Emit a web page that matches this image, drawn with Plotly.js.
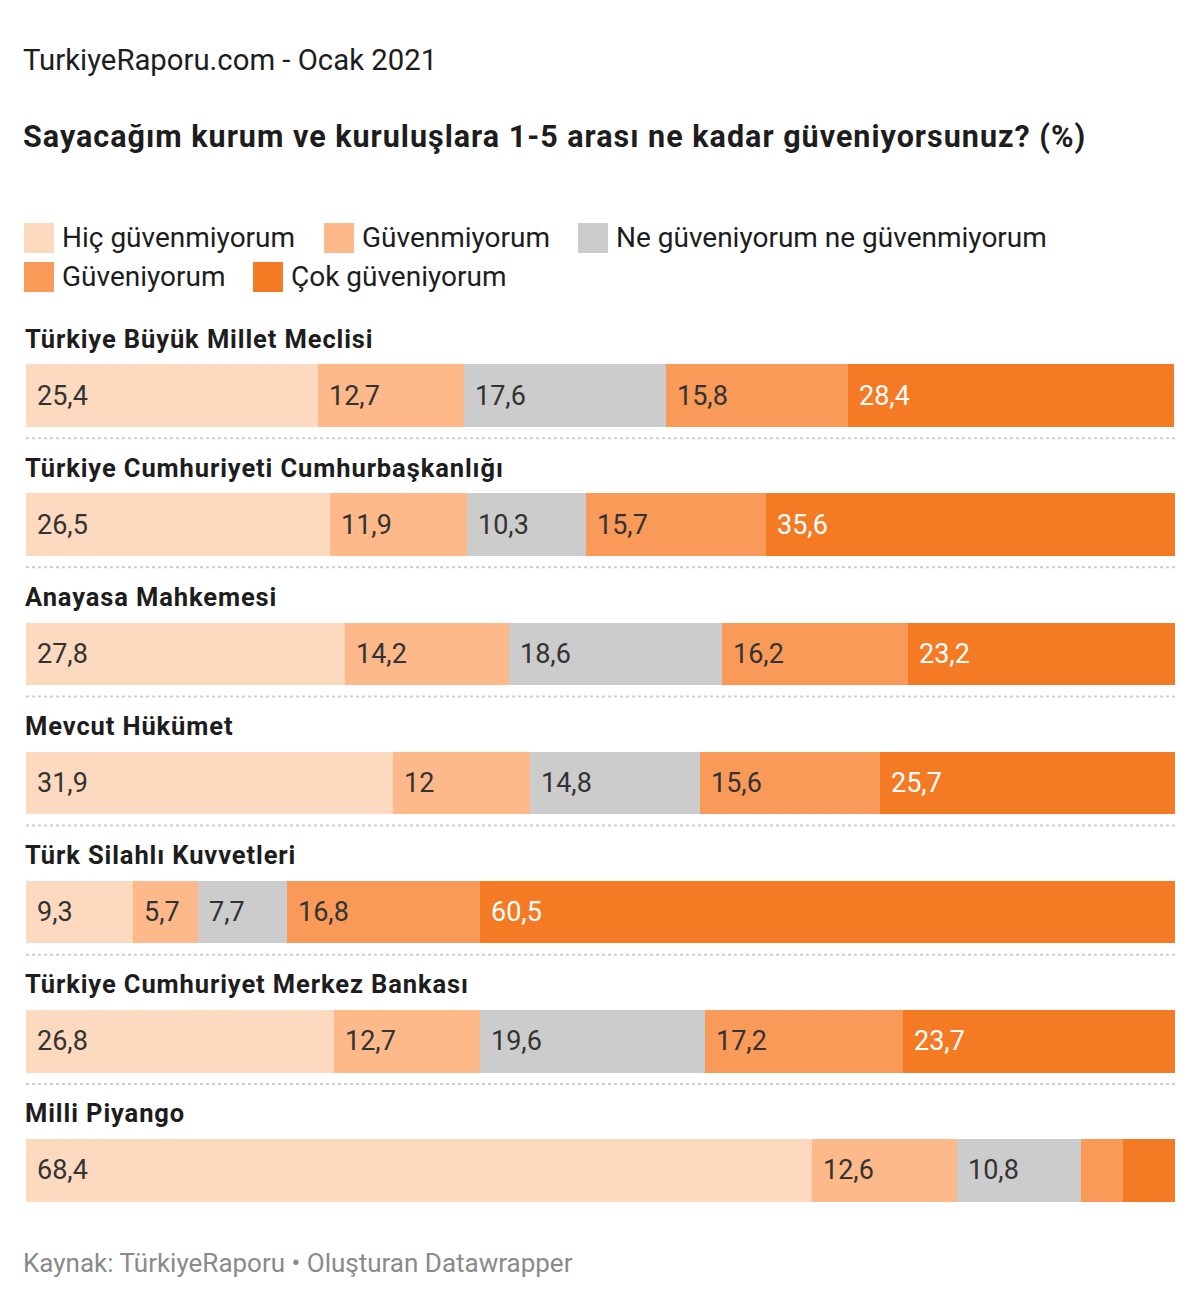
<!DOCTYPE html>
<html>
<head>
<meta charset="utf-8">
<script src="https://cdn.plot.ly/plotly-3.0.1.min.js"></script>
<style>
html,body{margin:0;padding:0;background:#fff;}
#chart{width:1200px;height:1302px;}
</style>
</head>
<body>
<div id="chart"></div>
<script>
const categories = [
  "Türkiye Büyük Millet Meclisi",
  "Türkiye Cumhuriyeti Cumhurbaşkanlığı",
  "Anayasa Mahkemesi",
  "Mevcut Hükümet",
  "Türk Silahlı Kuvvetleri",
  "Türkiye Cumhuriyet Merkez Bankası",
  "Milli Piyango"
];
const seriesNames = ["Hiç güvenmiyorum", "Güvenmiyorum", "Ne güveniyorum ne güvenmiyorum", "Güveniyorum", "Çok güveniyorum"];
const hicGuvenmiyorum = [25.4, 26.5, 27.8, 31.9, 9.3, 26.8, 68.4];
const guvenmiyorum    = [12.7, 11.9, 14.2, 12.0, 5.7, 12.7, 12.6];
const neNe            = [17.6, 10.3, 18.6, 14.8, 7.7, 19.6, 10.8];
const guveniyorum     = [15.8, 15.7, 16.2, 15.6, 16.8, 17.2, 3.7];
const cokGuveniyorum  = [28.4, 35.6, 23.2, 25.7, 60.5, 23.7, 4.5];
const series = [hicGuvenmiyorum, guvenmiyorum, neNe, guveniyorum, cokGuveniyorum];

const colors = ["#fcd9bf", "#fdb98a", "#cccccc", "#fa9a59", "#f47a24"];
const labelColors = ["#333333", "#333333", "#333333", "#333333", "#ffffff"];

const W = 1200, H = 1302;
const mL = 26, mR = 25, mT = 331, mB = 67;
const pw = W - mL - mR, ph = H - mT - mB;
const px2x = px => (px - mL) / pw;
const py2y = py => (H - mB - py) / ph;
const FONT = "Roboto, 'Noto Sans', sans-serif";

const traces = series.map((vals, k) => ({
  type: "bar",
  orientation: "h",
  name: seriesNames[k],
  y: categories,
  x: vals,
  marker: {color: colors[k], line: {width: 0}},
  hoverinfo: "skip",
  showlegend: false
}));

const annotations = [];
const shapes = [];

categories.forEach((c, i) => {
  let cum = 0;
  series.forEach((vals, k) => {
    const v = vals[i];
    if (v >= 5) {
      annotations.push({
        xref: "x", yref: "y", x: cum, y: c,
        xanchor: "left", yanchor: "middle", xshift: 9,
        text: String(v).replace(".", ","),
        showarrow: false,
        font: {family: FONT, size: 27, color: labelColors[k]}
      });
    }
    cum += v;
  });
  annotations.push({
    xref: "x", yref: "y", x: 0, y: c,
    xanchor: "left", yanchor: "middle", yshift: 57, xshift: -3,
    text: "<span style='letter-spacing:0.9px'><b>" + c + "</b></span>",
    showarrow: false,
    font: {family: FONT, size: 25.5, color: "#1d1d1d"}
  });
  if (i < categories.length - 1) {
    shapes.push({
      type: "line", xref: "paper", yref: "y",
      x0: 0, x1: 1, y0: i + 0.33, y1: i + 0.33,
      line: {color: "#cfcfcf", width: 2, dash: "dot"}
    });
  }
});

annotations.push({
  xref: "paper", yref: "paper", x: px2x(21), y: py2y(60),
  xanchor: "left", yanchor: "middle", showarrow: false,
  text: "TurkiyeRaporu.com - Ocak 2021",
  font: {family: FONT, size: 29.3, color: "#1d1d1d"}
});
annotations.push({
  xref: "paper", yref: "paper", x: px2x(21), y: py2y(137),
  xanchor: "left", yanchor: "middle", showarrow: false,
  text: "<span style='letter-spacing:1px'><b>Sayacağım kurum ve kuruluşlara 1-5 arası ne kadar güveniyorsunuz? (%)</b></span>",
  font: {family: FONT, size: 30.5, color: "#1d1d1d"}
});
annotations.push({
  xref: "paper", yref: "paper", x: px2x(21), y: py2y(1263),
  xanchor: "left", yanchor: "middle", showarrow: false,
  text: "Kaynak: TürkiyeRaporu • Oluşturan Datawrapper",
  font: {family: FONT, size: 26, color: "#8a8a8a"}
});

const legendPos = [
  {sx: 24, cy: 238}, {sx: 324, cy: 238}, {sx: 578, cy: 238},
  {sx: 24, cy: 277}, {sx: 253, cy: 277}
];
legendPos.forEach((p, k) => {
  shapes.push({
    type: "rect", xref: "paper", yref: "paper",
    x0: px2x(p.sx), x1: px2x(p.sx + 30),
    y0: py2y(p.cy + 15), y1: py2y(p.cy - 15),
    fillcolor: colors[k], line: {width: 0}
  });
  annotations.push({
    xref: "paper", yref: "paper", x: px2x(p.sx + 36), y: py2y(p.cy),
    xanchor: "left", yanchor: "middle", showarrow: false,
    text: seriesNames[k],
    font: {family: FONT, size: 28, color: "#1d1d1d"}
  });
});

const layout = {
  width: W, height: H,
  margin: {l: mL, r: mR, t: mT, b: mB, pad: 0},
  paper_bgcolor: "#ffffff", plot_bgcolor: "#ffffff",
  barmode: "stack",
  bargap: 0.515,
  separators: ",.",
  showlegend: false,
  xaxis: {range: [0, 100], visible: false, fixedrange: true},
  yaxis: {type: "category", range: [6.5, -0.5], visible: false, fixedrange: true},
  annotations: annotations,
  shapes: shapes
};

Plotly.newPlot("chart", traces, layout, {displayModeBar: false, staticPlot: true});
</script>
</body>
</html>
